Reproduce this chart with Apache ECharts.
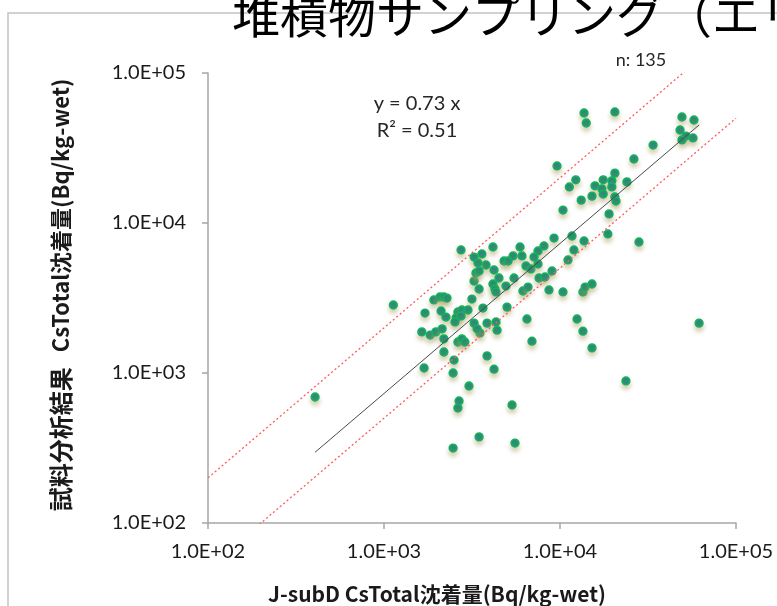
<!DOCTYPE html>
<html>
<head>
<meta charset="utf-8">
<script src="https://cdn.jsdelivr.net/npm/echarts@6/dist/echarts.min.js"></script>
<style>
  html, body { margin: 0; padding: 0; background: #fff; }
  #chart { width: 777px; height: 606px; }
</style>
</head>
<body>
<div id="chart"></div>
<script>
// J-subD deposition (x) against measured sample result (y), Bq/kg-wet
const jsubdValues = [
  13700, 20500, 14100, 49300, 57700, 48100, 52000, 49300, 57000, 33800,
  26300, 9620, 20500, 12300, 17600, 19700, 24000, 11300, 19700, 15800,
  17300, 17600, 15200, 20500, 20800, 13200, 10400, 19000, 18700, 28100,
  9250, 11700, 13700, 4160, 5930, 8110, 12000, 7500, 7120, 5410,
  6080, 3600, 4810, 5070, 3800, 4220, 6410, 6840, 7500, 11100,
  9010, 4500, 5480, 7600, 8220, 4160, 4270, 4330, 4930, 6160,
  6580, 8660, 10400, 13500, 13900, 15200, 3650, 5000, 3850, 4330,
  4390, 3510, 6490, 12500, 13500, 6930, 15200, 3850, 4220, 61700,
  23700, 2740, 3250, 3420, 3250, 1130, 1920, 2080, 2190, 2280,
  3160, 1710, 2110, 2250, 2630, 2770, 3000, 2570, 2740, 2530,
  3250, 3380, 1640, 1830, 1970, 2140, 2190, 2630, 2770, 2880,
  2190, 2500, 1690, 2470, 3040, 2670, 2630, 5340, 3470, 5550,
  2470, 406, 3330, 3470, 3470
];
const sampleValues = [
  54100, 55000, 46400, 50900, 48600, 41700, 38000, 35800, 36900, 33100,
  26700, 24000, 21500, 19400, 19400, 19100, 18800, 17400, 17400, 17700,
  16900, 15600, 15100, 14900, 14000, 14200, 12200, 11500, 8450, 7470,
  7940, 8190, 7590, 6920, 6920, 7030, 6610, 6510, 5930, 6030,
  6030, 6220, 5580, 5580, 5250, 4860, 5170, 4940, 5330, 5670,
  4790, 4300, 4300, 4300, 4370, 3920, 3630, 3470, 3800, 3520,
  3740, 3580, 3470, 3470, 3740, 3920, 2710, 2750, 2150, 2190,
  1930, 1850, 2290, 2290, 1900, 1630, 1470, 1300, 1060, 2150,
  885, 6610, 5930, 5410, 4100, 2840, 3070, 3210, 3210, 3160,
  3110, 2510, 2590, 2360, 2550, 2630, 2630, 2330, 2400, 2190,
  2150, 1970, 1880, 1790, 1880, 1970, 1690, 1610, 1690, 1610,
  1380, 1220, 1080, 1000, 819, 651, 584, 612, 375, 341,
  316, 692, 4640, 4790, 3630
];

// Regression through the origin and the factor-of-two band
const fitSlope = 0.73;
const fitR2 = 0.51;
const bandFactors = [2, 0.5];
const sampleCount = 135;

const axisMin = 100;
const axisMax = 100000;
const tickLabels = ['1.0E+02', '1.0E+03', '1.0E+04', '1.0E+05'];

const titleText = '堆積物サンプリング（エリア別）';
const xAxisTitle = 'J-subD CsTotal沈着量(Bq/kg-wet)';
const yAxisTitleParts = ['試料分析結果', 'CsTotal', '沈着量', '(Bq/kg-wet)'];

const points = jsubdValues.map((x, i) => [x, sampleValues[i]]);
const xLo = Math.min(...jsubdValues);
const xHi = Math.max(...jsubdValues);
const fitLine = [[xLo, fitSlope * xLo], [xHi, fitSlope * xHi]];
const bandLines = bandFactors.map(f => [[axisMin, f * axisMin], [axisMax, f * axisMax]]);

const labelFor = v => {
  const e = Math.round(Math.log10(v));
  return tickLabels[e - 2] || '';
};

const axisColor = '#a6a6a6';
const numFont = 'Lato, "Liberation Sans", sans-serif';
const jpFont = '"Noto Sans CJK JP", "Noto Sans", sans-serif';

const chart = echarts.init(document.getElementById('chart'), null, { renderer: 'canvas' });

chart.setOption({
  backgroundColor: '#ffffff',
  animation: false,
  grid: { left: 208, right: 41, top: 73, bottom: 83 },
  xAxis: {
    type: 'log', logBase: 10, min: axisMin, max: axisMax,
    axisLine: { show: true, onZero: false, lineStyle: { color: axisColor, width: 1.5 } },
    axisTick: { show: true, length: 6, lineStyle: { color: axisColor, width: 1.5 } },
    minorTick: { show: false },
    splitLine: { show: false },
    axisLabel: {
      show: true, margin: 19, fontSize: 20, color: '#1a1a1a', fontFamily: numFont,
      showMinLabel: true, showMaxLabel: true, formatter: labelFor
    }
  },
  yAxis: {
    type: 'log', logBase: 10, min: axisMin, max: axisMax,
    axisLine: { show: true, onZero: false, lineStyle: { color: axisColor, width: 1.5 } },
    axisTick: { show: true, length: 6, lineStyle: { color: axisColor, width: 1.5 } },
    minorTick: { show: false },
    splitLine: { show: false },
    axisLabel: {
      show: true, margin: 22, fontSize: 20, color: '#1a1a1a', fontFamily: numFont,
      showMinLabel: true, showMaxLabel: true, formatter: labelFor
    }
  },
  series: [
    {
      type: 'scatter',
      data: points,
      symbol: 'circle',
      symbolSize: 7.5,
      itemStyle: {
        opacity: 1,
        color: '#23857f',
        borderColor: '#16b05a',
        borderWidth: 1.8,
        shadowColor: 'rgba(170, 160, 100, 0.45)',
        shadowBlur: 4,
        shadowOffsetY: 4
      },
      z: 3
    },
    {
      type: 'line',
      data: fitLine,
      symbol: 'none',
      lineStyle: { color: '#4a4a4a', width: 1 },
      z: 4
    },
    ...bandLines.map(d => ({
      type: 'line',
      data: d,
      symbol: 'none',
      clip: true,
      lineStyle: { color: '#ff5a5a', width: 1.3, type: [2, 2.5] },
      z: 4
    }))
  ],
  graphic: [
    {
      type: 'rect', z: 0, silent: true,
      shape: { x: 8, y: 13, width: 900, height: 800 },
      style: { fill: null, stroke: '#c4c4c4', lineWidth: 1.5 }
    },
    {
      type: 'text', z: 10, left: 232, top: -9,
      style: { text: titleText, font: '48px ' + jpFont, fill: '#000' }
    },
    {
      type: 'text', z: 10, x: 417, y: 104,
      style: { text: 'y = ' + fitSlope + ' x', font: '20px ' + numFont, fill: '#262626', textAlign: 'center', textVerticalAlign: 'middle' }
    },
    {
      type: 'text', z: 10, x: 417, y: 131,
      style: { text: 'R² = ' + fitR2, font: '20px ' + numFont, fill: '#262626', textAlign: 'center', textVerticalAlign: 'middle' }
    },
    {
      type: 'text', z: 10, x: 641, y: 60,
      style: { text: 'n: ' + sampleCount, font: '18px ' + numFont, fill: '#262626', textAlign: 'center', textVerticalAlign: 'middle' }
    },
    {
      type: 'text', z: 10, x: 437, y: 594,
      style: { text: xAxisTitle, font: 'bold 21px ' + jpFont, fill: '#1a1a1a', textAlign: 'center', textVerticalAlign: 'middle' }
    },
    {
      type: 'text', z: 10, x: 61, y: 295, rotation: Math.PI / 2,
      style: {
        text: '{a|' + yAxisTitleParts[0] + '}{gap| }{l|' + yAxisTitleParts[1] + '}{b|' + yAxisTitleParts[2] + '}{l|' + yAxisTitleParts[3] + '}',
        textAlign: 'center', textVerticalAlign: 'middle',
        rich: {
          a: { font: 'bold 24px ' + jpFont, fill: '#1a1a1a' },
          b: { font: 'bold 22px ' + jpFont, fill: '#1a1a1a' },
          l: { font: 'bold 22px ' + jpFont, fill: '#1a1a1a' },
          gap: { font: 'bold 22px ' + jpFont, width: 15 }
        }
      }
    }
  ]
});
</script>
</body>
</html>
